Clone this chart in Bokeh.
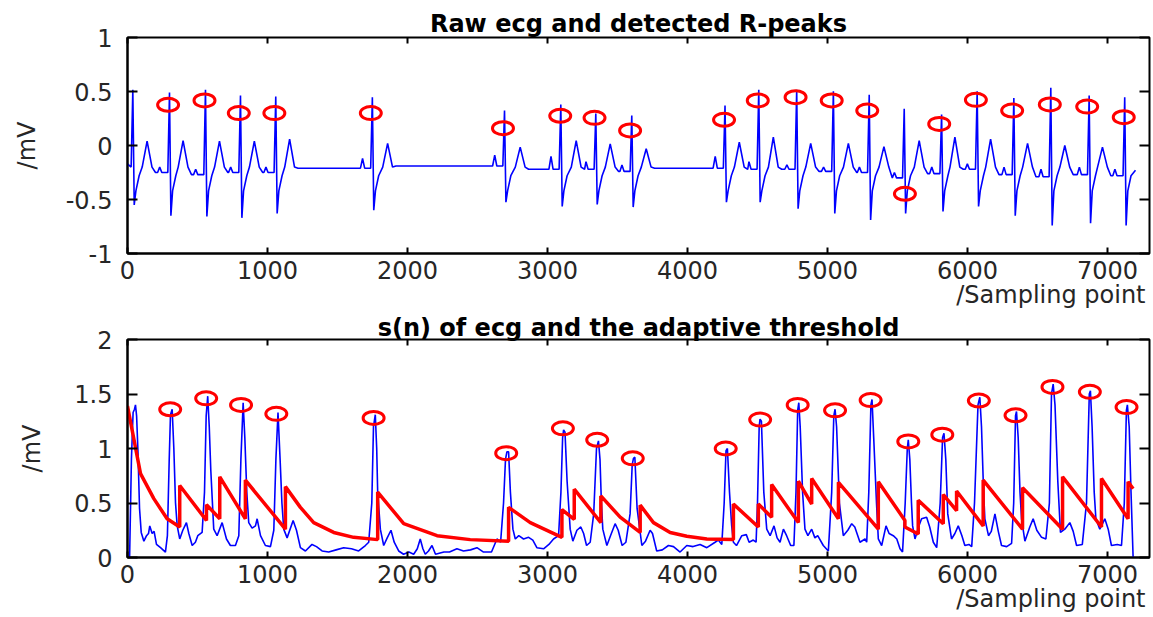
from bokeh.plotting import figure
from bokeh.models import LinearAxis, FixedTicker, CustomJSTickFormatter, Range1d, Title
from bokeh.layouts import column
from bokeh.embed import file_html
from bokeh.resources import INLINE

# ---------------- data ----------------
x_ticks = [0, 1000, 2000, 3000, 4000, 5000, 6000, 7000]
top_y_ticks = [-1, -0.5, 0, 0.5, 1]
bot_y_ticks = [0, 0.5, 1, 1.5, 2]

# raw ECG, per beat features
r_idx = [38, 300, 557, 807, 1059, 1749, 2693, 3095, 3345, 3602, 4268, 4509,
         4780, 5042, 5298, 5548, 5815, 6069, 6331, 6595, 6869, 7123]
r_top = [0.515, 0.49, 0.515, 0.463, 0.454, 0.447, 0.324, 0.38, 0.296, 0.278, 0.37, 0.515,
         0.515, 0.503, 0.47, 0.34, 0.287, 0.503, 0.44, 0.534, 0.463, 0.447]
s_bot = [-0.55, -0.65, -0.657, -0.67, -0.63, -0.6, -0.525, -0.565, -0.546, -0.57, -0.525, -0.525,
         -0.586, -0.63, -0.69, -0.63, -0.61, -0.565, -0.65, -0.74, -0.72, -0.74]
t_idx = [140, 397, 657, 906, 1158, 1858, 2805, 3205, 3448, 3705, 4370, 4613,
         4880, 5149, 5403, 5655, 5910, 6165, 6429, 6695, 6964]
t_top = [0.04, 0.046, 0.04, 0.04, 0.06, 0.02, -0.015, 0.046, 0.015, -0.03, 0.03, 0.077,
         0.02, 0.02, -0.01, 0.046, 0.077, 0.06, 0.02, 0.0, -0.015]
base_lvl = [-0.2, -0.25, -0.27, -0.25, -0.25, -0.21, -0.19, -0.22, -0.22, -0.24, -0.21, -0.22,
            -0.22, -0.24, -0.25, -0.3, -0.26, -0.22, -0.27, -0.29, -0.27, -0.28]
p_top = [-0.2, -0.2, -0.22, -0.2, -0.2, -0.12, -0.09, -0.1, -0.15, -0.18, -0.1, -0.15,
         -0.18, -0.2, -0.2, -0.25, -0.2, -0.17, -0.2, -0.22, -0.2, -0.22]
ecg_start = -0.17
ecg_end_x, ecg_end_y = 7200, -0.23

# detected R-peaks marked on the raw ECG
top_peak_x = [290, 550, 795, 1049, 1738, 2682, 3091, 3336, 3590, 4261, 4502,
              4772, 5030, 5284, 5553, 5798, 6060, 6319, 6588, 6855, 7116]
top_peak_y = [0.377, 0.417, 0.30, 0.30, 0.30, 0.16, 0.275, 0.256, 0.139, 0.238, 0.417,
              0.447, 0.417, 0.324, -0.447, 0.2, 0.423, 0.324, 0.38, 0.36, 0.262]

# s(n) of ecg
sn_x = [0, 15, 28, 40, 50, 57, 65, 74, 86, 98, 117, 136, 150, 159, 176, 190, 207, 236, 271,
        285, 298, 307, 319, 331, 343, 355, 373, 395, 421, 438, 462, 485, 502, 533,
        550, 562, 573, 584, 595, 616, 640, 676, 707, 735, 771, 795,
        810, 826, 838, 852, 866, 890, 914, 926, 950, 985, 1021,
        1045, 1060, 1075, 1090, 1103, 1116, 1140, 1183, 1207, 1235, 1271, 1318, 1350, 1390,
        1437, 1490, 1544, 1600, 1651, 1699, 1723,
        1745, 1757, 1770, 1780, 1787, 1806, 1830, 1855, 1882, 1905, 1937, 1972, 2010, 2044,
        2070, 2091, 2110, 2127, 2150, 2175, 2200, 2260, 2300, 2353, 2400, 2450, 2496, 2543,
        2600, 2639, 2665,
        2686, 2700, 2710, 2722, 2735, 2753, 2770, 2795, 2829, 2865, 2895, 2924, 2972, 3010,
        3043, 3079,
        3096, 3108, 3115, 3125, 3140, 3162, 3181, 3210, 3238, 3258, 3279, 3305,
        3330, 3350, 3364, 3375, 3385, 3395, 3424, 3450, 3483, 3505, 3533, 3560,
        3590, 3605, 3614, 3624, 3640, 3674, 3700, 3733, 3750, 3780, 3820, 3864, 3900, 3947,
        3995, 4040, 4090, 4138, 4197, 4220, 4245,
        4262, 4275, 4285, 4300, 4315, 4328, 4350, 4388, 4420, 4440, 4470, 4490,
        4500, 4512, 4518, 4528, 4545, 4566, 4590, 4618, 4640, 4661, 4685, 4708, 4737, 4760,
        4775, 4787, 4795, 4805, 4822, 4839, 4860, 4887, 4910, 4930, 4970, 5006,
        5030, 5045, 5054, 5065, 5085, 5113, 5145, 5173, 5195, 5232, 5268, 5280,
        5295, 5310, 5318, 5330, 5350, 5363, 5387, 5418, 5440, 5470, 5495, 5518, 5536,
        5555, 5570, 5577, 5588, 5600, 5608, 5625, 5650, 5672, 5708, 5730, 5756, 5780,
        5805, 5822, 5832, 5845, 5859, 5886, 5910, 5934, 5960, 5981, 6010, 6030,
        6050, 6075, 6088, 6100, 6115, 6124, 6150, 6170, 6196, 6220, 6243, 6280, 6315,
        6330, 6343, 6350, 6362, 6375, 6386, 6410, 6445, 6469, 6495, 6529, 6560,
        6585, 6600, 6612, 6625, 6645, 6664, 6695, 6731, 6755, 6779, 6820,
        6850, 6870, 6878, 6890, 6905, 6917, 6945, 6981, 7005, 7028, 7070, 7100,
        7120, 7135, 7142, 7155, 7168, 7178, 7183]
sn_y = [0.0, 0.0, 0.9, 1.33, 1.36, 1.40, 1.3, 1.0, 0.45, 0.23, 0.15, 0.2, 0.22, 0.29, 0.22, 0.24, 0.12, 0.09, 0.05,
        0.2, 0.9, 1.31, 1.36, 1.0, 0.5, 0.29, 0.17, 0.25, 0.32, 0.22, 0.11, 0.14, 0.2, 0.23,
        0.6, 1.3, 1.48, 1.2, 0.8, 0.26, 0.2, 0.32, 0.17, 0.11, 0.11, 0.2,
        0.9, 1.42, 1.1, 0.6, 0.32, 0.27, 0.29, 0.355, 0.2, 0.11, 0.1,
        0.25, 0.9, 1.33, 0.9, 0.5, 0.26, 0.18, 0.34, 0.25, 0.09, 0.06, 0.12, 0.1, 0.06,
        0.05, 0.07, 0.09, 0.08, 0.06, 0.11, 0.14,
        0.5, 1.2, 1.31, 1.0, 0.6, 0.26, 0.11, 0.18, 0.25, 0.14, 0.06, 0.03, 0.05, 0.03,
        0.08, 0.17, 0.08, 0.03, 0.06, 0.11, 0.03, 0.05, 0.05, 0.08, 0.06, 0.07, 0.09, 0.05,
        0.05, 0.17, 0.14,
        0.5, 0.9, 0.97, 0.97, 0.6, 0.26, 0.17, 0.2, 0.17, 0.185, 0.16, 0.09, 0.08, 0.12,
        0.17, 0.2,
        0.6, 1.1, 1.17, 1.15, 0.7, 0.26, 0.15, 0.25, 0.28, 0.22, 0.11, 0.14,
        0.4, 1.0, 1.07, 0.9, 0.5, 0.26, 0.11, 0.2, 0.31, 0.25, 0.11, 0.14,
        0.4, 0.85, 0.91, 0.92, 0.45, 0.11, 0.15, 0.25, 0.22, 0.06, 0.07, 0.11, 0.1, 0.05,
        0.11, 0.1, 0.12, 0.09, 0.14, 0.16, 0.12,
        0.5, 0.98, 1.0, 0.6, 0.3, 0.14, 0.11, 0.2, 0.21, 0.14, 0.16, 0.14,
        0.5, 1.2, 1.27, 1.25, 0.6, 0.26, 0.2, 0.29, 0.18, 0.14, 0.26, 0.2, 0.11, 0.11,
        0.6, 1.35, 1.42, 1.2, 0.6, 0.26, 0.2, 0.26, 0.18, 0.2, 0.11, 0.06,
        0.6, 1.3, 1.36, 1.2, 0.5, 0.2, 0.25, 0.31, 0.28, 0.14, 0.17, 0.14,
        0.6, 1.4, 1.45, 1.1, 0.5, 0.17, 0.11, 0.29, 0.22, 0.2, 0.17, 0.08, 0.05,
        0.5, 1.0, 1.08, 0.9, 0.5, 0.29, 0.17, 0.28, 0.355, 0.37, 0.28, 0.14, 0.09,
        0.5, 1.1, 1.14, 0.9, 0.4, 0.17, 0.22, 0.29, 0.2, 0.11, 0.12, 0.1,
        0.5, 1.4, 1.47, 1.2, 0.6, 0.355, 0.2, 0.24, 0.4, 0.24, 0.11, 0.1, 0.13,
        0.5, 1.3, 1.34, 1.1, 0.6, 0.355, 0.15, 0.28, 0.355, 0.25, 0.185, 0.17,
        0.5, 1.5, 1.59, 1.4, 0.7, 0.23, 0.26, 0.32, 0.24, 0.11, 0.12,
        0.5, 1.5, 1.53, 1.2, 0.6, 0.355, 0.26, 0.355, 0.26, 0.11, 0.12, 0.11,
        0.5, 1.35, 1.40, 1.2, 0.6, 0.2, 0.0]

# adaptive threshold (vertices, vertical jumps share an x)
thr_x = [0, 93, 188, 283, 373, 373, 564, 564, 659, 659, 842, 842, 1128, 1128, 1235, 1330, 1473,
         1615, 1787, 1787, 1973, 2211, 2448, 2722, 2722, 2877, 3103, 3103, 3191, 3191, 3381,
         3381, 3519, 3662, 3662, 3757, 3876, 3995, 4138, 4328, 4328, 4506, 4506, 4601, 4601,
         4792, 4792, 4887, 4887, 5078, 5078, 5363, 5363, 5553, 5553, 5648, 5648, 5827, 5827,
         5922, 5922, 6112, 6112, 6393, 6393, 6679, 6679, 6957, 6957, 7147, 7147, 7183]
thr_y = [1.39, 0.77, 0.54, 0.355, 0.28, 0.66, 0.34, 0.485, 0.355, 0.74, 0.355, 0.71, 0.26, 0.65,
         0.46, 0.32, 0.23, 0.185, 0.164, 0.60, 0.31, 0.2, 0.164, 0.148, 0.46, 0.32, 0.185, 0.44,
         0.35, 0.627, 0.32, 0.565, 0.37, 0.23, 0.48, 0.32, 0.23, 0.195, 0.17, 0.164, 0.49, 0.28,
         0.49, 0.37, 0.67, 0.32, 0.70, 0.49, 0.725, 0.355, 0.69, 0.26, 0.695, 0.34, 0.28, 0.215,
         0.525, 0.31, 0.577, 0.43, 0.61, 0.29, 0.71, 0.26, 0.64, 0.26, 0.74, 0.28, 0.725, 0.355,
         0.695, 0.63]

# detected peaks on s(n)
bot_peak_x = [305, 562, 811, 1063, 1758, 2705, 3110, 3355, 3609, 4273, 4519,
              4787, 5054, 5308, 5577, 5820, 6081, 6343, 6607, 6874, 7136]
bot_peak_y = [1.36, 1.46, 1.40, 1.318, 1.28, 0.957, 1.185, 1.08, 0.91, 1.0, 1.265,
              1.40, 1.35, 1.444, 1.065, 1.127, 1.44, 1.305, 1.565, 1.52, 1.38]

top_title = "Raw ecg and detected R-peaks"
bot_title = "s(n) of ecg and the adaptive threshold"
x_label = "/Sampling point"
y_label = "/mV"

# ---------------- build raw ecg polyline from per-beat readings ----------------
ecg_x, ecg_y = [0], [ecg_start]
for i, r in enumerate(r_idx):
    px = [r - 85, r - 70, r - 55, r - 12, r, r + 10, r + 22, r + 45]
    py = [base_lvl[i], p_top[i], base_lvl[i], base_lvl[i], r_top[i], s_bot[i], -0.42, -0.28]
    if i < len(t_idx):
        t = t_idx[i]
        px += [t - 35, t, t + 35, t + 60]
        py += [-0.2, t_top[i], -0.2, base_lvl[min(i + 1, len(base_lvl) - 1)]]
    for a, b in zip(px, py):
        if a > ecg_x[-1]:
            ecg_x.append(a)
            ecg_y.append(b)
ecg_x.append(ecg_end_x)
ecg_y.append(ecg_end_y)

# ---------------- figures ----------------
FONT = "DejaVu Sans"
BLUE = "#0000FF"
RED = "#FF0000"
TXT = "#262626"


def safe_set(obj, name, val, fallback):
    try:
        setattr(obj, name, val)
    except Exception:
        setattr(obj, name, fallback)


def make_fig(height, btop, bbottom, y0, y1, yticks, title, ylab_standoff, title_standoff):
    p = figure(width=1153, height=height, output_backend="svg", toolbar_location=None,
               x_range=Range1d(0, 7300), y_range=Range1d(y0, y1),
               min_border_left=127, min_border_right=4,
               min_border_top=btop, min_border_bottom=bbottom,
               title=title)
    p.title.align = "center"
    p.title.text_font = FONT
    p.title.text_font_size = "24px"
    p.title.text_font_style = "bold"
    p.title.text_color = "black"
    safe_set(p.title, "standoff", title_standoff, 0)
    p.xgrid.visible = False
    p.ygrid.visible = False
    p.outline_line_color = "black"
    p.outline_line_width = 2
    p.outline_line_alpha = 1
    p.background_fill_color = "white"
    p.border_fill_color = "white"
    fmt = CustomJSTickFormatter(code="return tick.toString();")
    blank = CustomJSTickFormatter(code="return '';")

    xa = p.xaxis[0]
    xa.ticker = FixedTicker(ticks=x_ticks)
    xa.formatter = fmt
    ya = p.yaxis[0]
    ya.ticker = FixedTicker(ticks=yticks)
    ya.formatter = fmt
    ya.axis_label = y_label
    ya.axis_label_text_font = FONT
    ya.axis_label_text_font_size = "24px"
    ya.axis_label_text_font_style = "normal"
    ya.axis_label_text_color = TXT
    ya.axis_label_standoff = ylab_standoff
    for ax, tin in ((xa, 6), (ya, 10)):
        ax.major_label_text_font = FONT
        ax.major_label_text_font_size = "24px"
        ax.major_label_text_color = TXT
        ax.major_tick_in = tin
        ax.major_tick_out = 0
        ax.major_tick_line_width = 2
        ax.minor_tick_line_color = None
        ax.axis_line_width = 2
        ax.axis_line_color = "black"
    xa.major_label_standoff = 7
    ya.major_label_standoff = 15

    above = LinearAxis(ticker=FixedTicker(ticks=x_ticks), formatter=blank,
                       major_label_text_color=None,
                       major_tick_in=6, major_tick_out=0, major_tick_line_width=2,
                       minor_tick_line_color=None, axis_line_color=None, major_label_standoff=0)
    p.add_layout(above, "above")
    right = LinearAxis(ticker=FixedTicker(ticks=yticks), formatter=blank,
                       major_label_text_color=None,
                       major_tick_in=10, major_tick_out=0, major_tick_line_width=2,
                       minor_tick_line_color=None, axis_line_color=None, major_label_standoff=0)
    p.add_layout(right, "right")

    xl = Title(text=x_label, align="right", text_font=FONT, text_font_size="24px",
               text_font_style="normal", text_color=TXT, offset=4)
    safe_set(xl, "standoff", -6, 0)
    p.add_layout(xl, "below")
    return p


p1 = make_fig(313, 37, 60, -1, 1, top_y_ticks, top_title, 22, 0)
p1.line(ecg_x, ecg_y, line_color=BLUE, line_width=1.6)
p1.ellipse(top_peak_x, top_peak_y, width=21, height=13, width_units="screen", height_units="screen",
           fill_color=None, line_color=RED, line_width=3)

p2 = make_fig(304, 26, 60, 0, 2, bot_y_ticks, bot_title, 25, -5)
p2.line(sn_x, sn_y, line_color=BLUE, line_width=1.6)
p2.line(thr_x, thr_y, line_color=RED, line_width=3.5)
p2.ellipse(bot_peak_x, bot_peak_y, width=21, height=13, width_units="screen", height_units="screen",
           fill_color=None, line_color=RED, line_width=3)

layout = column(p1, p2, spacing=0)
open("out.html", "w").write(file_html(layout, INLINE))
